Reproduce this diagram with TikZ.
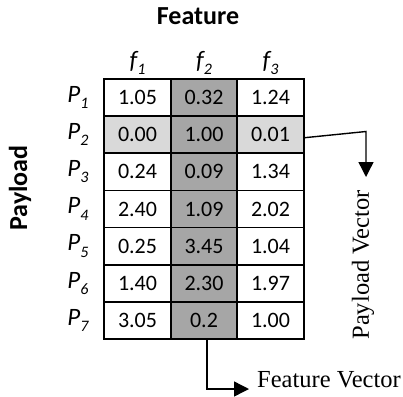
\documentclass[tikz,border=0pt]{standalone}
\usepackage{fontspec}
\setmainfont{Carlito}
\newfontfamily\timesf{Liberation Serif}
\usetikzlibrary{arrows.meta}
\definecolor{darkcell}{HTML}{A6A6A6}
\definecolor{lightcell}{HTML}{D9D9D9}
\tikzset{
  cell/.style={draw=black, line width=1.6pt, minimum width=66.5pt, minimum height=37.14pt, inner sep=0pt, anchor=center, font=\fontsize{22}{24}\selectfont},
  rowlab/.style={font=\fontsize{25}{28}\selectfont\itshape, inner sep=0pt},
  collab/.style={font=\fontsize{25}{28}\selectfont\itshape, inner sep=0pt},
  boldlab/.style={font=\fontsize{26}{30}\selectfont\bfseries, inner sep=0pt},
  veclab/.style={font=\fontsize{24.5}{27}\selectfont\timesf, inner sep=0pt},
  vecarrow/.style={line width=1.4pt, -{Triangle[length=15pt,width=15pt]}},
}
\newcommand{\subit}[1]{\raisebox{-0.25em}{\fontsize{16}{18}\selectfont\itshape #1}}
\begin{document}
\begin{tikzpicture}[x=1pt,y=-1pt]
\useasboundingbox (0,0) rectangle (403,396);
% cells
\foreach \r/\a/\b/\c [count=\i] in {1/1.05/0.32/1.24, 2/0.00/1.00/0.01, 3/0.24/0.09/1.34, 4/2.40/1.09/2.02, 5/0.25/3.45/1.04, 6/1.40/2.30/1.97, 7/3.05/0.2/1.00}{
  \pgfmathsetmacro{\yc}{79+37.14*(\i-0.5)}
  \ifnum\i=2
    \node[cell, fill=lightcell] (c\i1) at (137.5,\yc) {\a};
    \node[cell, fill=darkcell] (c\i2) at (204,\yc) {\b};
    \node[cell, fill=lightcell] (c\i3) at (270.5,\yc) {\c};
  \else
    \node[cell] (c\i1) at (137.5,\yc) {\a};
    \node[cell, fill=darkcell] (c\i2) at (204,\yc) {\b};
    \node[cell] (c\i3) at (270.5,\yc) {\c};
  \fi
  \node[rowlab] (p\i) at (78,\yc) {P\subit{\i}};
}
\node[collab] (f1) at (137.5,63) {f\subit{1}};
\node[collab] (f2) at (204,63) {f\subit{2}};
\node[collab] (f3) at (270.5,63) {f\subit{3}};
\node[boldlab] (feat) at (198,16) {Feature};
\node[boldlab, rotate=90] (pay) at (20,188) {Payload};
% payload vector
\coordinate (pcorner) at (366,131.5);
\coordinate (ptip) at (366,177);
\draw[vecarrow] ([yshift=-3pt]c23.east) -- (pcorner) -- (ptip);
\node[veclab, rotate=90] (pvec) at (363,265) {Payload Vector};
% feature vector
\coordinate (fcorner) at ([xshift=3pt]c72.south |- 0,389);
\coordinate (ftip) at (249,389);
\draw[vecarrow] ([xshift=3pt]c72.south) -- (fcorner) -- (ftip);
\node[veclab, anchor=west] (fvec) at (257,380) {Feature Vector};
\end{tikzpicture}
\end{document}
